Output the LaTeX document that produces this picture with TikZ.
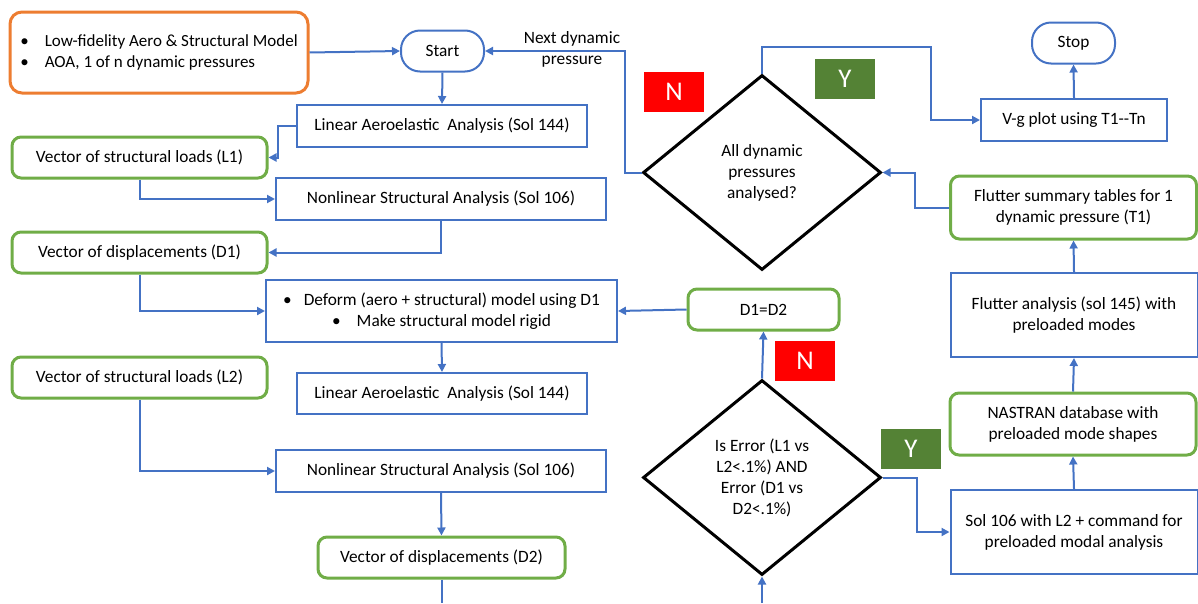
\documentclass[tikz,border=0pt]{standalone}
\usepackage{fontspec}
\setmainfont{Carlito}
\usetikzlibrary{shapes.geometric,arrows.meta}
\definecolor{blu}{HTML}{4472C4}
\definecolor{grn}{HTML}{70AD47}
\definecolor{org}{HTML}{ED7D31}
\definecolor{dkgrn}{HTML}{548235}
\begin{document}
\begin{tikzpicture}[x=1pt,y=-1pt,
	>={Triangle[width=8pt,length=8pt]},
	every node/.style={font=\fontsize{17.3}{21}\selectfont, align=center, inner sep=0pt},
	blubox/.style={draw=blu, line width=2pt, minimum height=42pt},
	grnbox/.style={draw=grn, line width=3pt, rounded corners=9pt, minimum height=41pt},
	term/.style={draw=blu, line width=2pt, rounded corners=19pt, minimum width=83pt, minimum height=41pt},
	dec/.style={draw, diamond, line width=3pt, minimum width=238pt, minimum height=195pt},
	tag/.style={minimum width=60pt, minimum height=40pt, text=white, font=\fontsize{27}{30}\selectfont},
	link/.style={draw=blu, line width=2pt}]
	\useasboundingbox (0,0) rectangle (1198,603);
			\node[draw=org, line width=3pt, rounded corners=12pt, minimum height=81pt, minimum width=298pt, align=left, font=\fontsize{17}{21}\selectfont] (inp) at (159,52.5) {\textbullet\hspace{16pt}Low-fidelity Aero \& Structural Model\\ \textbullet\hspace{16pt}AOA, 1 of n dynamic pressures};
			\node[term] (start) at (442.5,51) {Start};
			\node (next) at (572,49) {Next dynamic\\pressure};
			\node[blubox, minimum width=290pt] (lin1) at (442,126) {Linear Aeroelastic\ \ Analysis (Sol 144)};
			\node[grnbox, minimum width=255pt] (l1) at (139.5,157.5) {Vector of structural loads (L1)};
			\node[blubox, minimum width=330pt] (nl1) at (441,199) {Nonlinear Structural Analysis (Sol 106)};
			\node[grnbox, minimum width=255pt] (d1) at (139.5,252.5) {Vector of displacements (D1)};
			\node[blubox, minimum width=351pt, minimum height=62pt] (def) at (441.5,311) {\textbullet\hspace{12pt}Deform (aero + structural) model using D1\\ \textbullet\hspace{16pt}Make structural model rigid};
			\node[blubox, minimum width=290pt, minimum height=41pt] (lin2) at (442,393.5) {Linear Aeroelastic\ \ Analysis (Sol 144)};
			\node[grnbox, minimum width=255pt] (l2) at (139.5,377.5) {Vector of structural loads (L2)};
			\node[blubox, minimum width=330pt] (nl2) at (441,471) {Nonlinear Structural Analysis (Sol 106)};
			\node[grnbox, minimum width=247pt] (d2) at (441.5,557.5) {Vector of displacements (D2)};
			\node[grnbox, minimum width=151pt] (eq) at (763.5,309.5) {D1=D2};
			\node[dec] (all) at (762,172.5) {All dynamic\\pressures\\analysed?};
			\node[dec] (err) at (762,477.5) {Is Error (L1 vs\\L2<.1\%) AND\\Error (D1 vs\\D2<.1\%)};
			\node[blubox, minimum width=247pt, minimum height=84pt] (sol) at (1074,532) {Sol 106 with L2 + command for\\preloaded modal analysis};
			\node[grnbox, minimum width=246pt, minimum height=62pt] (nas) at (1073,424) {NASTRAN database with\\preloaded mode shapes};
			\node[blubox, minimum width=247pt, minimum height=84pt] (flut) at (1074,315) {Flutter analysis (sol 145) with\\preloaded modes};
			\node[grnbox, minimum width=246pt, minimum height=63pt] (sum) at (1073.5,207.5) {Flutter summary tables for 1\\dynamic pressure (T1)};
			\node[blubox, minimum width=186pt] (vg) at (1074,120) {V-g plot using T1-{}-Tn};
			\node[term] (stop) at (1073.5,43) {Stop};
			\node[tag, fill=red] (n1) at (674,92) {N};
			\node[tag, fill=dkgrn] (y1) at (845,79) {Y};
			\node[tag, fill=red] (n2) at (805,360.5) {N};
			\node[tag, fill=dkgrn] (y2) at (911,448.5) {Y};
			\coordinate (bot1) at (441.5,603);
			\coordinate (bot2) at (762,603);
			\coordinate (yturn) at (931,47);
			\draw[link,->] (inp.east) -- (start.west);
			\draw[link,->] (start.south) -- (lin1.north);
			\draw[link,->] (lin1.west) -- ++(-18,0) |- (l1.east);
			\draw[link,->] (l1.south) |- (nl1.west);
			\draw[link,->] (nl1.south) |- (d1.east);
			\draw[link,->] (d1.south) |- (def.west);
			\draw[link,->] (def.south) -- (lin2.north);
			\draw[link,->] (eq.west) -- (def.east);
			\draw[link,->] (l2.south) |- (nl2.west);
			\draw[link,->] (nl2.south) -- (d2.north);
			\draw[link] (d2.south) -- (bot1);
			\draw[link,->] (bot2) -- (err.south);
			\draw[link,->] (err.north) -- (eq.south);
			\draw[link,->] (err.east) -- ++(34,0) |- (sol.west);
			\draw[link,->] (sol.north) -- (nas.south);
			\draw[link,->] (nas.north) -- (flut.south);
			\draw[link,->] (flut.north) -- (sum.south);
			\draw[link,->] (sum.west) -- ++(-34,0) |- (all.east);
			\draw[link,->] (all.west) -- ++(-17,0) |- (start.east);
			\draw[link,->] (all.north) |- (yturn) |- (vg.west);
			\draw[link,->] (vg.north) -- (stop.south);
		\end{tikzpicture}
\end{document}
